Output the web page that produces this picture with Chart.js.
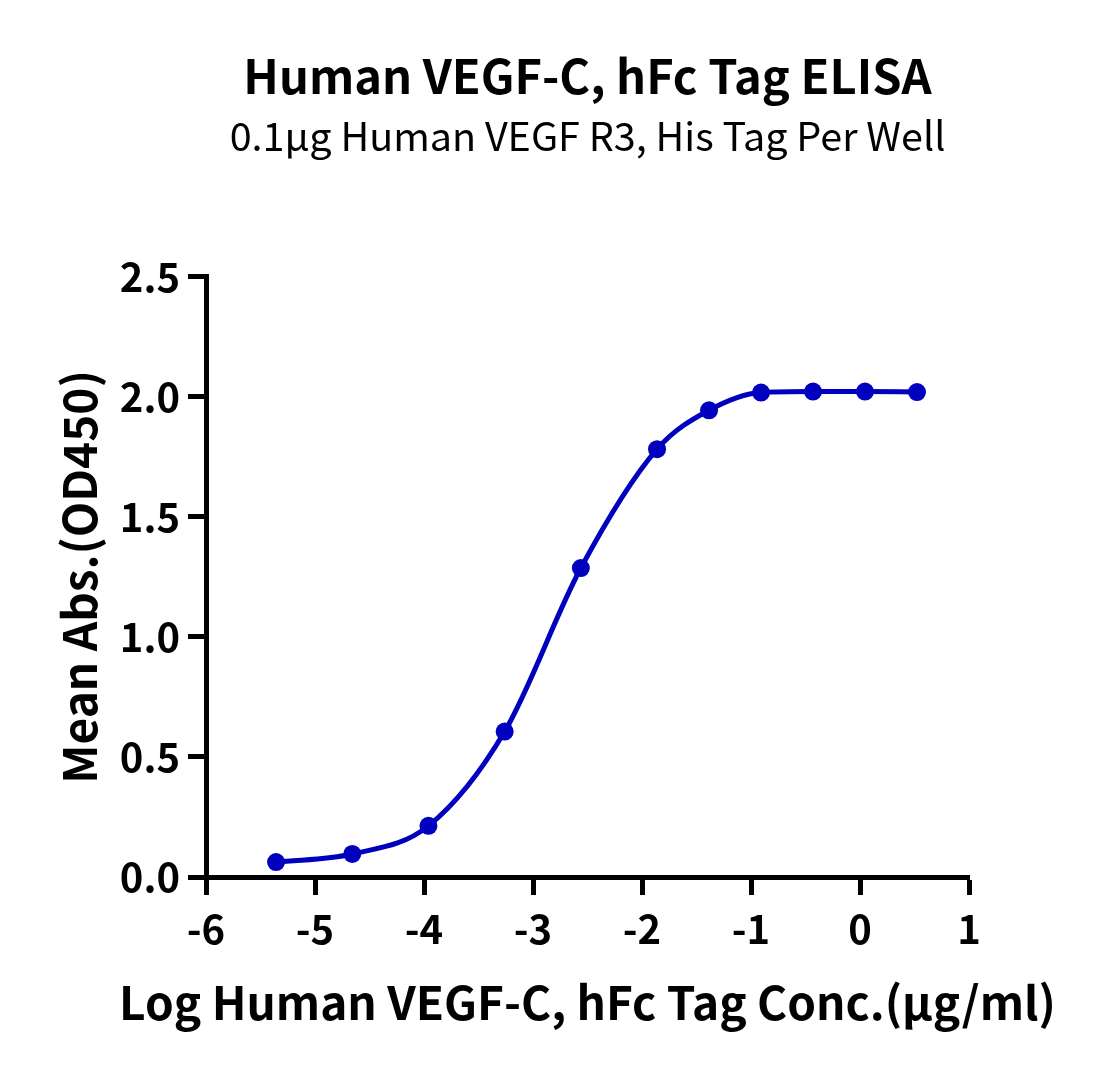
<!DOCTYPE html>
<html>
<head>
<meta charset="utf-8">
<script src="https://cdn.jsdelivr.net/npm/chart.js@4"></script>
<style>
    html, body { margin: 0; padding: 0; background: #fff; }
    #wrap { width: 1102px; height: 1077px; }
</style>
</head>
<body>
<div id="wrap"><canvas id="elisaChart"></canvas></div>
<script>
// data
const logConc = [-5.357, -4.658, -3.959, -3.260, -2.561, -1.862, -1.385, -0.908, -0.431, 0.046, 0.523];
const meanAbs = [0.062, 0.096, 0.213, 0.606, 1.287, 1.782, 1.944, 2.018, 2.022, 2.022, 2.020];
const xTickLabels = ["-6", "-5", "-4", "-3", "-2", "-1", "0", "1"];
const yTickLabels = ["0.0", "0.5", "1.0", "1.5", "2.0", "2.5"];

const FONT = "'Noto Sans CJK SC', 'Source Sans Pro', Lato, sans-serif";
const BLUE = "#0000BE";

// x axis title is wider than the plot, so the scale title would squeeze it
const xTitlePlugin = {
    id: "xTitle",
    afterDraw(chart, args, opts) {
        const { ctx, chartArea } = chart;
        ctx.save();
        ctx.font = "bold " + opts.size + "px " + FONT;
        ctx.fillStyle = "#000";
        ctx.textAlign = "center";
        ctx.textBaseline = "middle";
        ctx.fillText(opts.text, (chartArea.left + chartArea.right) / 2, chartArea.bottom + opts.offset);
        ctx.restore();
    },
};

if (document.getElementById("elisaChart")) {
    const ctx = document.getElementById("elisaChart");

    new Chart(ctx, {
        type: "scatter",
        plugins: [xTitlePlugin],
        data: {
            datasets: [
                {
                    label: "Mean Abs.",
                    data: logConc.map((x, i) => ({ x: x, y: meanAbs[i] })),
                    showLine: true,
                    cubicInterpolationMode: "monotone",
                    borderWidth: 5,
                    borderColor: BLUE,
                    backgroundColor: BLUE,
                    pointRadius: 9,
                    pointBorderWidth: 0,
                    pointHoverRadius: 9,
                },
            ],
        },
        options: {
            responsive: true,
            maintainAspectRatio: false,
            animation: false,
            devicePixelRatio: 1,
            layout: {
                padding: { top: 0, left: 0, bottom: 0, right: 133 },
            },
            plugins: {
                legend: { display: false },
                tooltip: { enabled: false },
                title: {
                    display: true,
                    fullSize: false,
                    text: "Human VEGF-C, hFc Tag ELISA",
                    color: "#000",
                    font: { family: FONT, size: 47, weight: "bold", lineHeight: 1.2 },
                    padding: { top: 48, bottom: 0 },
                },
                subtitle: {
                    display: true,
                    fullSize: false,
                    text: "0.1μg Human VEGF R3, His Tag Per Well",
                    color: "#000",
                    font: { family: FONT, size: 39.5, weight: "normal", lineHeight: 1.2 },
                    padding: { top: 8, bottom: 117 },
                },
                xTitle: {
                    text: "Log Human VEGF-C, hFc Tag Conc.(μg/ml)",
                    size: 46,
                    offset: 126,
                },
            },
            scales: {
                x: {
                    type: "linear",
                    min: -6,
                    max: 1,
                    afterFit: (scale) => { scale.height = 200; },
                    afterBuildTicks: (scale) => {
                        scale.ticks = xTickLabels.map((t) => ({ value: Number(t) }));
                    },
                    ticks: {
                        color: "#000",
                        padding: 10,
                        font: { family: FONT, size: 40, weight: "bold" },
                        callback: (v, i) => xTickLabels[i],
                    },
                    grid: {
                        drawOnChartArea: false,
                        drawTicks: true,
                        tickLength: 18,
                        tickWidth: 5,
                        tickColor: "#000",
                    },
                    border: { display: true, width: 5, color: "#000" },
                },
                y: {
                    type: "linear",
                    min: 0,
                    max: 2.5,
                    afterFit: (scale) => { scale.width = 206; },
                    afterBuildTicks: (scale) => {
                        scale.ticks = yTickLabels.map((t) => ({ value: Number(t) }));
                    },
                    ticks: {
                        color: "#000",
                        padding: 8,
                        font: { family: FONT, size: 40, weight: "bold" },
                        callback: (v, i) => yTickLabels[i],
                    },
                    grid: {
                        drawOnChartArea: false,
                        drawTicks: true,
                        tickLength: 18,
                        tickWidth: 5,
                        tickColor: "#000",
                    },
                    border: { display: true, width: 5, color: "#000" },
                    title: {
                        display: true,
                        text: "Mean Abs.(OD450)",
                        color: "#000",
                        font: { family: FONT, size: 46, weight: "bold", lineHeight: 1.2 },
                        padding: { top: 52, bottom: 0 },
                    },
                },
            },
        },
    });
}
</script>
</body>
</html>
